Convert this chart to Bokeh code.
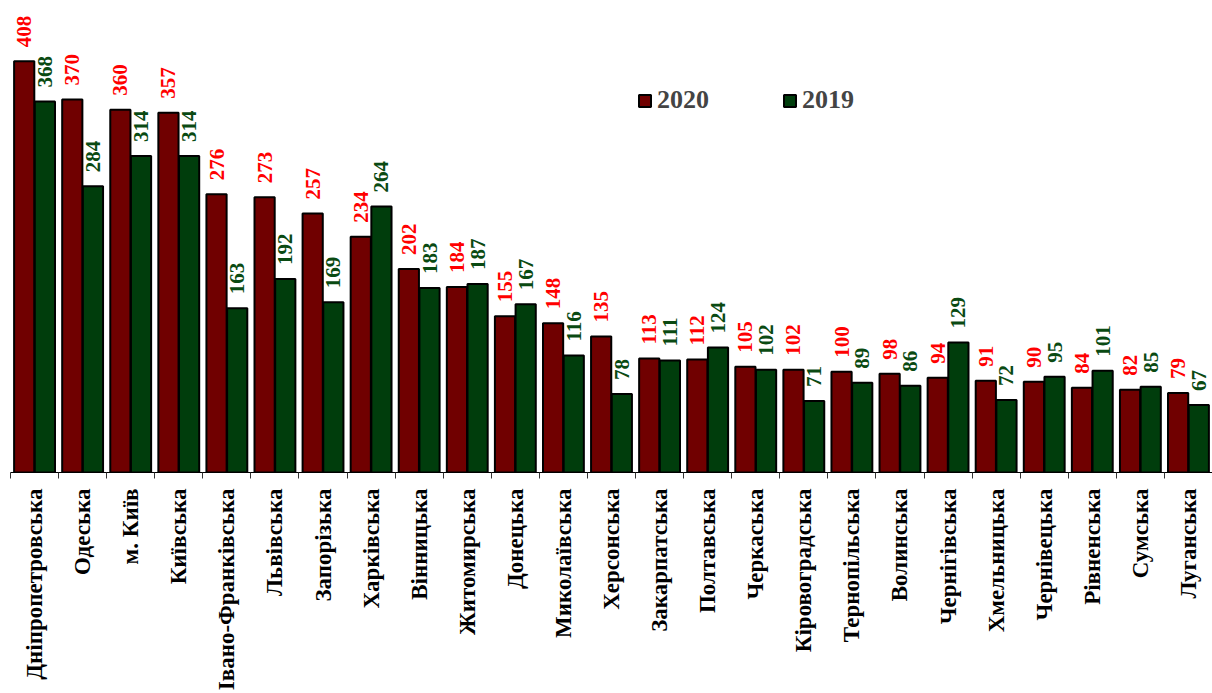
import math
from bokeh.plotting import figure
from bokeh.models import ColumnDataSource, Range1d, FixedTicker
from bokeh.transform import dodge
from bokeh.core.properties import value
from bokeh.embed import file_html
from bokeh.resources import INLINE

regions = ["Дніпропетровська", "Одеська", "м. Київ", "Київська", "Івано-Франківська",
           "Львівська", "Запорізька", "Харківська", "Вінницька", "Житомирська",
           "Донецька", "Миколаївська", "Херсонська", "Закарпатська", "Полтавська",
           "Черкаська", "Кіровоградська", "Тернопільська", "Волинська", "Чернігівська",
           "Хмельницька", "Чернівецька", "Рівненська", "Сумська", "Луганська"]
v2020 = [408, 370, 360, 357, 276, 273, 257, 234, 202, 184, 155, 148, 135, 113, 112,
         105, 102, 100, 98, 94, 91, 90, 84, 82, 79]
v2019 = [368, 284, 314, 314, 163, 192, 169, 264, 183, 187, 167, 116, 78, 111, 124,
         102, 71, 89, 86, 129, 72, 95, 101, 85, 67]

idx = list(range(len(regions)))
src = ColumnDataSource(dict(x=idx, v2020=v2020, v2019=v2019,
                            t2020=[str(v) for v in v2020],
                            t2019=[str(v) for v in v2019]))

RED = "#700000"
GREEN = "#003D0C"
FONT = "Liberation Serif"

p = figure(width=1212, height=693, output_backend="svg", toolbar_location=None,
           x_range=Range1d(-0.5, 24.5), y_range=Range1d(0, 468.3),
           min_border_left=10, min_border_right=0, min_border_top=0, min_border_bottom=221)
p.outline_line_color = None
p.xgrid.visible = False
p.ygrid.visible = False
p.yaxis.visible = False

OFF = 0.215
W = 0.42
p.vbar(x=dodge("x", -OFF), top="v2020", width=W, source=src, fill_color=RED,
       line_color="black", line_width=2, legend_label="2020")
p.vbar(x=dodge("x", OFF), top="v2019", width=W, source=src, fill_color=GREEN,
       line_color="black", line_width=2, legend_label="2019")

p.text(x=dodge("x", -OFF), y="v2020", text="t2020", source=src, angle=math.pi / 2,
       text_align="left", text_baseline="middle", y_offset=-14, text_color="#FF0000",
       text_font=value(FONT), text_font_style="bold", text_font_size="21px")
p.text(x=dodge("x", OFF), y="v2019", text="t2019", source=src, angle=math.pi / 2,
       text_align="left", text_baseline="middle", y_offset=-14, text_color="#0A4A12",
       text_font=value(FONT), text_font_style="bold", text_font_size="21px")

ax = p.xaxis[0]
ax.ticker = FixedTicker(ticks=idx, minor_ticks=[i - 0.5 for i in range(len(idx) + 1)])
ax.major_label_overrides = {i: name for i, name in enumerate(regions)}
ax.major_label_orientation = math.pi / 2
ax.major_tick_line_color = None
ax.major_tick_out = 0
ax.major_tick_in = 0
ax.minor_tick_in = 0
ax.minor_tick_out = 6
ax.minor_tick_line_color = "#333333"
ax.axis_line_color = "black"
ax.major_label_standoff = 10
ax.major_label_text_font = FONT
ax.major_label_text_font_style = "bold"
ax.major_label_text_font_size = "23px"
ax.major_label_text_color = "black"

lg = p.legend[0]
lg.orientation = "horizontal"
lg.location = (627, 357)
lg.border_line_color = None
lg.background_fill_alpha = 0
lg.label_text_font = FONT
lg.label_text_font_style = "bold"
lg.label_text_font_size = "26px"
lg.glyph_width = 15
lg.glyph_height = 15
lg.spacing = 73
lg.padding = 0
lg.margin = 0
lg.label_standoff = 5

open("out.html", "w").write(file_html(p, INLINE))
